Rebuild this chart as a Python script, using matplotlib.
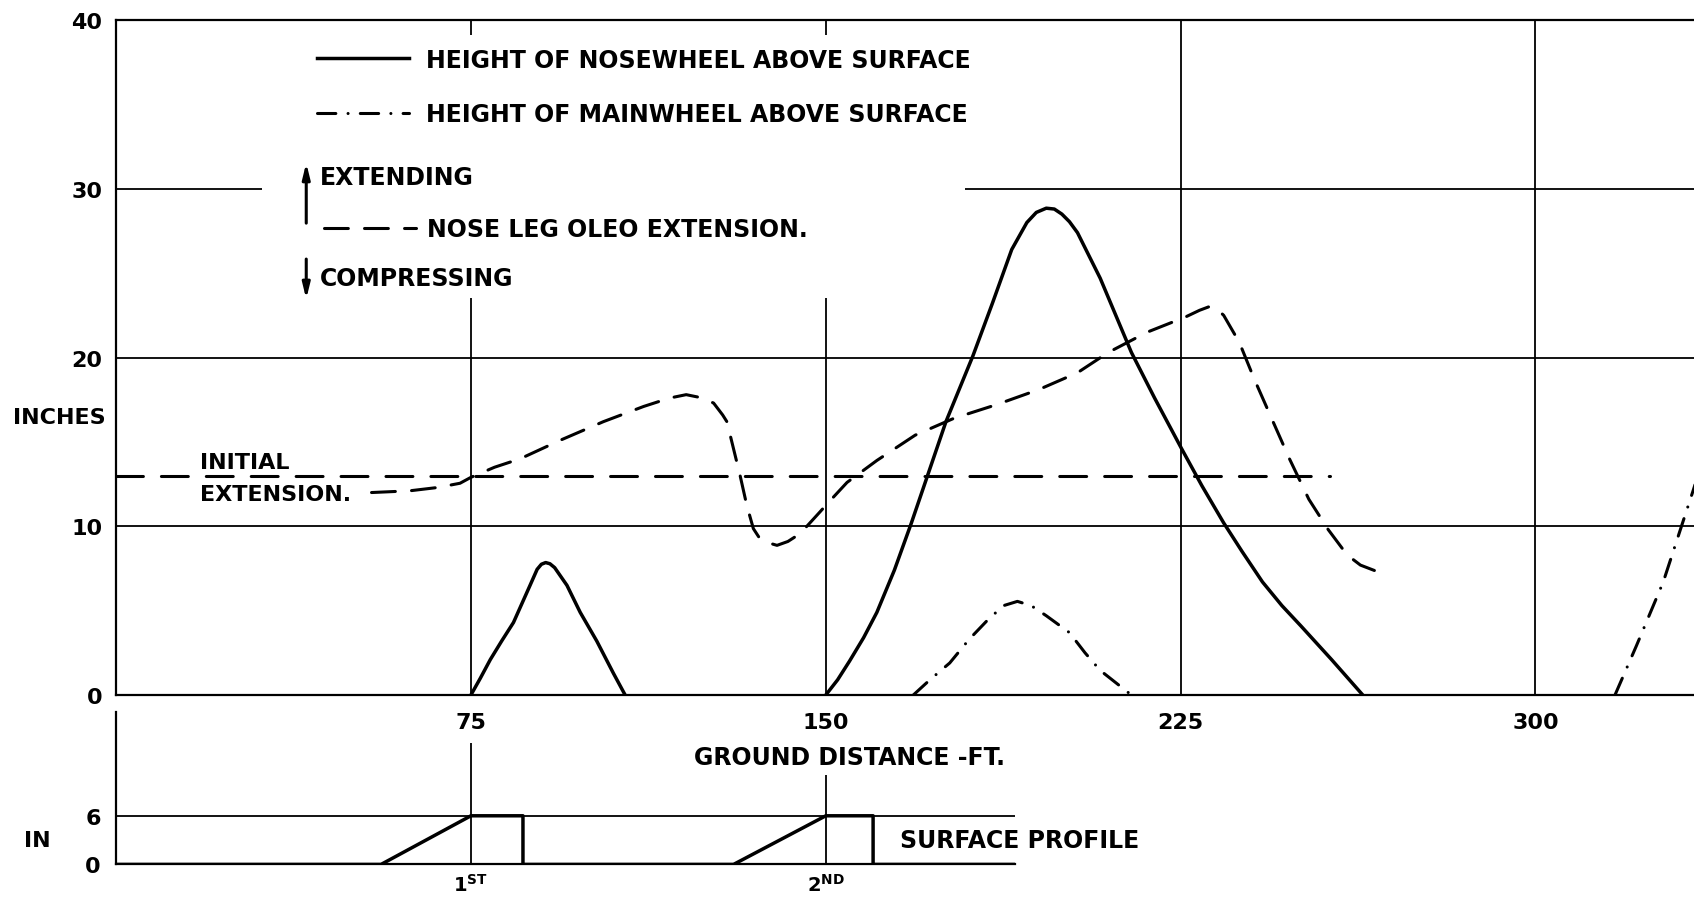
import numpy as np
import matplotlib.pyplot as plt
from matplotlib.lines import Line2D
from matplotlib.patches import Rectangle

plt.rcParams['font.family'] = ['DejaVu Sans']
plt.rcParams['font.weight'] = 'bold'
plt.rcParams['mathtext.fontset'] = 'dejavusans'

# ground distance (ft) vs height (in)
nose_x = [75, 77.0, 79.1, 81.5, 84.0, 87.5, 89.0, 89.9, 90.8, 91.7, 92.7, 95.3, 98.1, 101.6, 105.1, 107.6, np.nan,
          150, 152.5, 155.0, 158.0, 160.8, 164.5, 168.1, 175.4, 181.1, 185.2, 189.3, 192.5, 194.5, 196.6,
          198.3, 199.9, 201.5, 203.2, 208.0, 214.6, 219.5, 225.2, 229.5, 234.1, 238.0, 242.3, 246.4,
          250.4, 256.9, 263.5]
nose_y = [0, 1.0, 2.1, 3.2, 4.3, 6.5, 7.45, 7.75, 7.85, 7.78, 7.55, 6.5, 4.9, 3.2, 1.3, 0, np.nan,
          0, 0.9, 2.0, 3.4, 4.9, 7.4, 10.2, 16.2, 20.1, 23.2, 26.4, 28.0, 28.6, 28.85,
          28.8, 28.5, 28.05, 27.4, 24.7, 20.3, 17.6, 14.6, 12.4, 10.2, 8.5, 6.7, 5.3,
          4.1, 2.1, 0]

main_x = [168.5, 172.0, 176.2, 180.3, 184.4, 187.6, 190.5, 193.4, 196.6, 201.5, 204.8, 208.0, 214.6, np.nan,
          316.8, 321.3, 327.0, 333.3, 336.0]
main_y = [0, 0.9, 1.9, 3.3, 4.5, 5.3, 5.55, 5.3, 4.7, 3.7, 2.5, 1.46, 0, np.nan,
          0, 2.9, 6.7, 12.1, 14.5]

oleo_x = [54, 62, 68, 72.7, 75, 80, 85.4, 93.9, 103.0, 111.5, 117.0, 120.5, 124.0, 126.3, 128.2,
          129.1, 130.5, 131.9, 133.3, 134.7, 136.0, 137.5, 139.7, 142.0, 144.6, 148.8, 150.2,
          154.5, 160.8, 168.9, 177.1, 186.0, 195.0, 203.2, 209.7, 217.9, 226.0, 229.0, 230.9,
          232.6, 234.1, 237.4, 240.6, 243.9, 248.0, 252.1, 256.2, 260.2, 263.0, 266.7]
oleo_y = [12.0, 12.1, 12.3, 12.55, 12.9, 13.5, 14.0, 15.1, 16.2, 17.1, 17.6, 17.8, 17.6, 17.3, 16.6,
          16.2, 14.6, 13.0, 11.25, 9.86, 9.3, 9.05, 8.87, 9.1, 9.57, 10.86, 11.3,
          12.6, 13.9, 15.4, 16.4, 17.2, 18.1, 19.1, 20.3, 21.5, 22.4, 22.8, 23.0,
          22.9, 22.5, 20.9, 18.7, 16.6, 14.0, 11.6, 9.8, 8.3, 7.7, 7.3]

initial_x = [0, 256.6]
initial_y = [13.0, 13.0]

# surface profile (in) with the two bumps
surf_x = [0, 56, 75, 86, 86, 130.5, 150, 160, 160, 190]
surf_y = [0, 0, 6, 6, 0, 0, 6, 6, 0, 0]
bump_x = [75, 150]
bump_mark_top = [15, 11]
bump_labels = [r'1$^{\mathbf{ST}}$', r'2$^{\mathbf{ND}}$']

dist_ticks = [75, 150, 225, 300]
height_ticks = [0, 10, 20, 30, 40]
surf_ticks = [0, 6]

fs = 17

fig = plt.figure(figsize=(16.94, 9.03), dpi=100)
ax = fig.add_axes([0.0685, 0.2292, 0.9315, 0.7475])
ax2 = fig.add_axes([0.0685, 0.0416, 0.5307, 0.1688])
ax2.patch.set_visible(False)

# main chart
ln_nose, = ax.plot(nose_x, nose_y, color='black', lw=2.5, zorder=3)
ln_main, = ax.plot(main_x, main_y, color='black', lw=2.2, ls=(0, (6, 4, 0.01, 4)),
                   dash_capstyle='round', zorder=3)
ln_oleo, = ax.plot(oleo_x, oleo_y, color='black', lw=2.2, ls=(0, (7.8, 5.3)),
                   dash_capstyle='round', zorder=3)
ax.plot(initial_x, initial_y, color='black', lw=2.2, ls=(0, (8.8, 5.9)),
        dash_capstyle='round', zorder=3)

ax.set_xlim(0, 333.5)
ax.set_ylim(0, 40)
ax.set_xticks(dist_ticks)
ax.set_yticks(height_ticks)
ax.set_axisbelow(True)
ax.grid(True, color='black', lw=1.3)
ax.tick_params(length=0, labelsize=fs - 1)
ax.tick_params(axis='x', pad=12)
ax.tick_params(axis='y', pad=10)
ax.spines['right'].set_visible(False)
for s in ['left', 'top', 'bottom']:
    ax.spines[s].set_linewidth(1.6)

# white block behind the key
ax.add_patch(Rectangle((30.8, 23.5), 148.6, 15.6, facecolor='white', edgecolor='none', zorder=1))

leg1 = ax.legend([ln_nose, ln_main],
                 ['HEIGHT OF NOSEWHEEL ABOVE SURFACE', 'HEIGHT OF MAINWHEEL ABOVE SURFACE'],
                 loc='upper left', bbox_to_anchor=(0.1274, 0.959), frameon=False, borderpad=0,
                 borderaxespad=0, handlelength=3.9, handletextpad=0.72, labelspacing=1.3, fontsize=fs)
ax.add_artist(leg1)
ax.legend([ln_oleo], ['NOSE LEG OLEO EXTENSION.'],
          loc='center left', bbox_to_anchor=(0.1318, 0.690), frameon=False, borderpad=0,
          borderaxespad=0, handlelength=3.9, handletextpad=0.45, fontsize=fs)

ax.annotate('', xy=(40.2, 31.7), xytext=(40.2, 27.8),
            arrowprops=dict(arrowstyle='-|>,head_length=0.9,head_width=0.22', color='black', lw=2.2))
ax.annotate('', xy=(40.2, 23.3), xytext=(40.2, 26.0),
            arrowprops=dict(arrowstyle='-|>,head_length=0.9,head_width=0.22', color='black', lw=2.2))
ax.text(43.0, 30.7, 'EXTENDING', va='center', fontsize=fs)
ax.text(43.0, 24.7, 'COMPRESSING', va='center', fontsize=fs)

ax.text(27.1, 13.8, 'INITIAL', ha='center', va='center', fontsize=fs - 1)
ax.text(33.8, 11.9, 'EXTENSION.', ha='center', va='center', fontsize=fs - 1)
ax.text(155, -3.7, 'GROUND DISTANCE -FT.', ha='center', va='center', fontsize=fs)
ax.text(-0.036, 16.45, 'INCHES', transform=ax.get_yaxis_transform(),
        ha='center', va='center', fontsize=fs - 1)

# surface profile strip
ax2.plot(surf_x, surf_y, color='black', lw=2.5)
ax2.vlines(bump_x, 0, bump_mark_top, color='black', lw=1.3)
ax2.set_xlim(0, 190)
ax2.set_ylim(0, 18.8)
ax2.set_yticks(surf_ticks)
ax2.set_xticks(bump_x, labels=bump_labels)
ax2.set_axisbelow(True)
ax2.grid(True, axis='y', color='black', lw=1.3)
ax2.tick_params(length=0, labelsize=fs - 1)
ax2.tick_params(axis='x', labelsize=fs - 3, pad=6)
ax2.tick_params(axis='y', pad=11)
ax2.spines['right'].set_visible(False)
ax2.spines['top'].set_visible(False)
for s in ['left', 'bottom']:
    ax2.spines[s].set_linewidth(1.6)
ax2.text(-0.088, 3, 'IN', transform=ax2.get_yaxis_transform(), ha='center', va='center', fontsize=fs - 1)
ax2.text(165.6, 3, 'SURFACE PROFILE', va='center', fontsize=fs)

fig.savefig('out.png', dpi=100)
